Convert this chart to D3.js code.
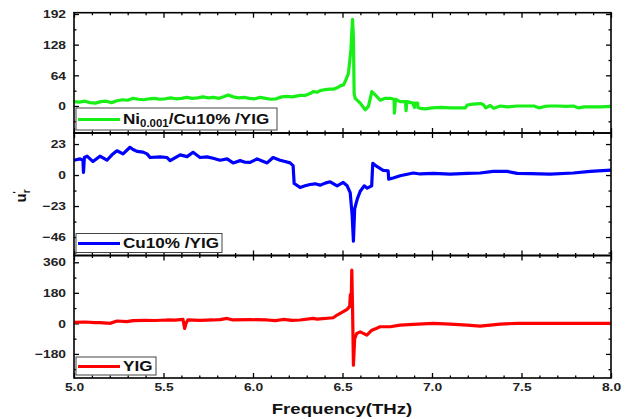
<!DOCTYPE html>
<html>
<head>
<meta charset="utf-8">
<script src="https://cdn.jsdelivr.net/npm/d3@7/dist/d3.min.js"></script>
<style>
  body { margin: 0; background: #fff; }
  svg { display: block; }
  text { font-family: "Liberation Sans", Arial, sans-serif; font-weight: bold; }
</style>
</head>
<body>
<svg id="chart" width="631" height="419"></svg>
<script>
// Ni0.001/Cu10%/YIG
const freqNi = [5.000,5.030,5.060,5.090,5.120,5.150,5.180,5.210,5.240,5.270,5.300,5.330,5.360,5.390,5.420,5.450,5.480,5.510,5.540,5.570,5.600,5.630,5.660,5.690,5.720,5.750,5.780,5.810,5.840,5.860,5.890,5.920,5.950,5.980,6.010,6.040,6.070,6.100,6.130,6.160,6.190,6.220,6.263,6.290,6.319,6.336,6.360,6.375,6.400,6.430,6.450,6.470,6.487,6.505,6.515,6.533,6.547,6.556,6.561,6.565,6.571,6.599,6.627,6.645,6.664,6.683,6.711,6.739,6.766,6.788,6.790,6.796,6.822,6.852,6.855,6.860,6.893,6.902,6.903,6.920,6.921,6.935,6.963,6.999,7.050,7.102,7.150,7.186,7.197,7.230,7.270,7.286,7.300,7.325,7.345,7.381,7.420,7.476,7.520,7.570,7.600,7.630,7.660,7.700,7.750,7.790,7.820,7.850,7.884,7.940,8.000];
const valNi  = [9,8,10,7,6,9,10,7,11,13,12,16,14,13,15,16,14,15,17,15,16,18,16,17,19,17,18,16,20,23,19,17,18,16,15,18,16,14,15,19,20,19,22,22,26,30,29,32,34,35,35,38,42,44,51,68,117,181,144,26,16,6,-8,-1,30,23,12,16,16,14,-15,14,9,9,-10,9,6,-3,6,6,-3,-5,-6,-4,-3,-4,-4,-4,2,4,5,3,-4,1,-5,0,-2,0,0,0,-4,-1,0,0,-1,0,-4,-2,-2,-2,-1];

// Cu10%/YIG
const freqCu = [5.000,5.034,5.050,5.053,5.058,5.073,5.106,5.145,5.184,5.212,5.240,5.274,5.313,5.330,5.352,5.386,5.408,5.425,5.481,5.520,5.537,5.593,5.632,5.665,5.704,5.743,5.777,5.816,5.855,5.889,5.928,5.956,5.984,6.023,6.051,6.079,6.112,6.151,6.179,6.207,6.224,6.230,6.263,6.291,6.319,6.347,6.375,6.403,6.431,6.470,6.504,6.526,6.543,6.554,6.561,6.568,6.582,6.599,6.621,6.638,6.663,6.669,6.694,6.727,6.755,6.758,6.783,6.822,6.895,6.934,7.007,7.102,7.197,7.269,7.342,7.420,7.476,7.549,7.661,7.789,7.884,8.000];
const valCu  = [11,12,11,2,13,14,10,14,11,15,18,15.7,20.6,19,17.6,17,15.7,13,13.5,13,10.7,15,13.7,16.9,13,13.5,12.5,11,12,9,10.7,9.5,9.4,12,10.5,9,13,11,10,9,7,-6.3,-9.2,-8,-7,-6.5,-7.5,-6,-5,-8,-5.5,-8,-13,-30,-49,-25,-18,-12,-8,-9.7,-8,8.7,6.2,3.5,3.2,-3,-2.2,-0.5,1.5,0.8,1.2,0.7,1.2,1.5,2.7,2.7,1.2,1,0.7,1.5,2.7,3.7];

// YIG
const freqYig = [5.000,5.061,5.117,5.145,5.184,5.201,5.240,5.296,5.330,5.397,5.453,5.520,5.565,5.609,5.618,5.626,5.636,5.704,5.777,5.816,5.855,5.889,5.984,6.079,6.124,6.168,6.219,6.263,6.336,6.358,6.448,6.470,6.504,6.526,6.540,6.544,6.548,6.552,6.556,6.561,6.568,6.580,6.599,6.636,6.664,6.688,6.710,6.766,6.822,6.895,7.007,7.102,7.197,7.269,7.325,7.381,7.476,7.717,8.000];
const valYig  = [6,8,4,4,2,0,14,10,16,18,17,20,19,23,-30,0,20,18,20,22,29,20,22,20,16,23,18,20,29,25,33,49,69,83,100,170,100,314,100,-246,-90,-59,-50,-69,-40,-30,-20,-20,-10,-6,0,-5,-10,-16,-10,-4,0,0,0];

// Axis ticks
const xMajorTicks = [5.0, 5.5, 6.0, 6.5, 7.0, 7.5, 8.0];
const niTicks  = [0, 64, 128, 192];
const cuTicks  = [-46, -23, 0, 23];
const yigTicks = [-180, 0, 180, 360];

const legendNames = ["Ni0.001/Cu10% /YIG", "Cu10% /YIG", "YIG"];
const xLabel = "Frequency(THz)";

const svg = d3.select("#chart");
const left = 74, right = 611;

const x = d3.scaleLinear().domain([5, 8]).range([left, right]);
const xMinorTicks = d3.range(50, 81).map(d => d / 10).filter(t => !xMajorTicks.some(m => Math.abs(m - t) < 1e-6));

const panels = [
  { freq: freqNi, val: valNi, color: "#17ef17", domain: [-56.4, 194.7], top: 12.7, bottom: 133,
    ticks: niTicks, step: 64, legend: { w: 201, h: 22 } },
  { freq: freqCu, val: valCu, color: "#0000ff", domain: [-59.7, 31.2], top: 133, bottom: 255.5,
    ticks: cuTicks, step: 23, legend: { w: 146, h: 19 } },
  { freq: freqYig, val: valYig, color: "#ff0000", domain: [-322, 400], top: 255.5, bottom: 378,
    ticks: yigTicks, step: 180, legend: { w: 80, h: 18 } }
];

const labelScale = 1.2;
const legendScale = 1.14;
const fmtMinus = d => d3.format("d")(d).replace("-", "\u2212");

function styleAxis(g) {
  g.select(".domain").remove();
  g.selectAll(".tick line").attr("stroke", "#000").attr("stroke-width", 1.3);
}

panels.forEach((p, i) => {
  const y = d3.scaleLinear().domain(p.domain).range([p.bottom, p.top]);
  const minor = [];
  for (let v = Math.ceil(p.domain[0] / (p.step / 2)) * (p.step / 2); v <= p.domain[1]; v += p.step / 2) {
    if (!p.ticks.includes(v) && Math.abs(v / p.step - Math.round(v / p.step)) > 1e-6) minor.push(v);
  }
  const g = svg.append("g");

  // left axis with labels
  const la = g.append("g").attr("transform", `translate(${left},0)`)
    .call(d3.axisLeft(y).tickValues(p.ticks).tickSizeInner(-5).tickSizeOuter(0).tickPadding(8).tickFormat(fmtMinus));
  styleAxis(la);
  la.selectAll(".tick text")
    .attr("font-size", 11.5).attr("fill", "#222")
    .attr("x", -8 / labelScale)
    .attr("transform", `scale(${labelScale},1)`);
  g.append("g").attr("transform", `translate(${left},0)`)
    .call(d3.axisLeft(y).tickValues(minor).tickSize(-2.5).tickFormat(""))
    .call(styleAxis);

  // right axis
  g.append("g").attr("transform", `translate(${right},0)`)
    .call(d3.axisRight(y).tickValues(p.ticks).tickSize(-5).tickFormat(""))
    .call(styleAxis);
  g.append("g").attr("transform", `translate(${right},0)`)
    .call(d3.axisRight(y).tickValues(minor).tickSize(-2.5).tickFormat(""))
    .call(styleAxis);

  // top and bottom ticks
  g.append("g").attr("transform", `translate(0,${p.top})`)
    .call(d3.axisTop(x).tickValues(xMajorTicks).tickSize(-5).tickFormat(""))
    .call(styleAxis);
  g.append("g").attr("transform", `translate(0,${p.top})`)
    .call(d3.axisTop(x).tickValues(xMinorTicks).tickSize(-2.5).tickFormat(""))
    .call(styleAxis);
  const ba = g.append("g").attr("transform", `translate(0,${p.bottom})`)
    .call(d3.axisBottom(x).tickValues(xMajorTicks).tickSizeInner(-5).tickSizeOuter(0).tickPadding(5)
      .tickFormat(i === panels.length - 1 ? d3.format(".1f") : ""));
  styleAxis(ba);
  ba.selectAll(".tick text")
    .attr("font-size", 11.5).attr("fill", "#222")
    .attr("transform", `scale(${labelScale},1)`);
  g.append("g").attr("transform", `translate(0,${p.bottom})`)
    .call(d3.axisBottom(x).tickValues(xMinorTicks).tickSize(-2.5).tickFormat(""))
    .call(styleAxis);

  // data line
  const pts = p.freq.map((f, k) => [f, p.val[k]]);
  g.append("path")
    .datum(pts)
    .attr("fill", "none")
    .attr("stroke", p.color)
    .attr("stroke-width", 3.2)
    .attr("stroke-linejoin", "round")
    .attr("d", d3.line().x(d => x(d[0])).y(d => y(d[1])));

  // panel frame
  g.append("rect")
    .attr("x", left).attr("y", p.top)
    .attr("width", right - left).attr("height", p.bottom - p.top)
    .attr("fill", "none").attr("stroke", "#000").attr("stroke-width", 1.6);

  // legend
  const lx = left + 2, ly = p.bottom - 3 - p.legend.h;
  const lg = g.append("g").attr("transform", `translate(${lx},${ly})`);
  lg.append("rect").attr("width", p.legend.w).attr("height", p.legend.h)
    .attr("fill", "#fff").attr("stroke", "#444").attr("stroke-width", 1);
  lg.append("line").attr("x1", 2).attr("x2", 44)
    .attr("y1", p.legend.h / 2 + 0.5).attr("y2", p.legend.h / 2 + 0.5)
    .attr("stroke", p.color).attr("stroke-width", 3.2);
  const lt = lg.append("text")
    .attr("x", 47 / legendScale).attr("y", p.legend.h / 2 + 5.5)
    .attr("font-size", 15).attr("fill", "#111")
    .attr("transform", `scale(${legendScale},1)`);
  if (i === 0) {
    lt.append("tspan").text("Ni");
    lt.append("tspan").attr("font-size", 10).attr("dy", 3).text("0.001");
    lt.append("tspan").attr("dy", -3).text("/Cu10% /YIG");
  } else {
    lt.text(legendNames[i]);
  }
});

// axis titles
svg.append("text")
  .attr("x", 342 / 1.2).attr("y", 414)
  .attr("text-anchor", "middle")
  .attr("font-size", 15.5)
  .attr("fill", "#111")
  .attr("transform", "scale(1.2,1)")
  .text(xLabel);

const yt = svg.append("text")
  .attr("transform", "translate(26,196) rotate(-90)")
  .attr("text-anchor", "middle")
  .attr("font-size", 15)
  .attr("fill", "#111");
yt.append("tspan").text("u");
yt.append("tspan").attr("font-size", 9).attr("dy", -7).text("'");
yt.append("tspan").attr("font-size", 10).attr("dy", 11).attr("dx", -2).text("r");
</script>
</body>
</html>
